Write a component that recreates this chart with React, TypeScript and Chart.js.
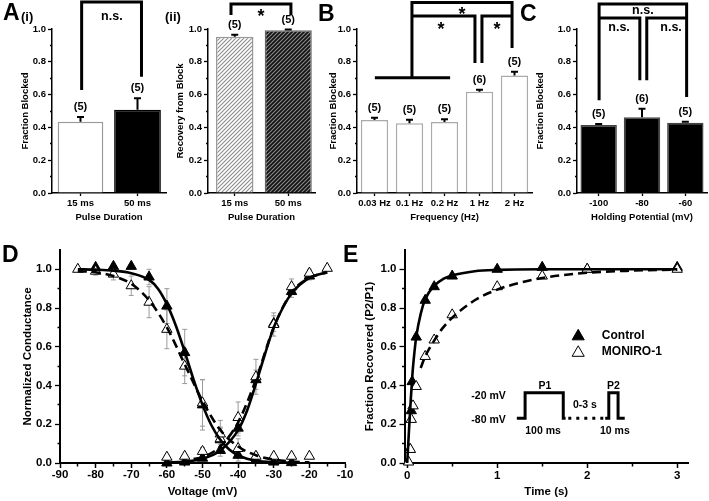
import React, { useEffect, useRef } from 'react';
import { Chart, registerables } from 'chart.js';

Chart.register(...registerables);

const FONT = "'Liberation Sans', Arial, Helvetica, sans-serif";
const bf = (size: number) => ({ family: FONT, size, weight: 'bold' as const, lineHeight: 1.2 });

// ================= DATA =================
// Panel A(i)
const aiCategories = ['15 ms', '50 ms'];
const aiValues = [0.434, 0.508];
const aiErrors = [0.03, 0.07];
const aiCounts = ['(5)', '(5)'];

// Panel A(ii)
const aiiCategories = ['15 ms', '50 ms'];
const aiiValues = [0.953, 0.993];
const aiiErrors = [0.012, 0.004];
const aiiCounts = ['(5)', '(5)'];

// Panel B
const bCategories = ['0.03 Hz', '0.1 Hz', '0.2 Hz', '1 Hz', '2 Hz'];
const bValues = [0.445, 0.425, 0.433, 0.617, 0.717];
const bErrors = [0.014, 0.022, 0.016, 0.013, 0.022];
const bCounts = ['(5)', '(5)', '(5)', '(6)', '(5)'];

// Panel C
const cCategories = ['-100', '-80', '-60'];
const cValues = [0.415, 0.462, 0.428];
const cErrors = [0.006, 0.052, 0.006];
const cCounts = ['(5)', '(6)', '(5)'];

const fractionTicks = [0, 0.1, 0.2, 0.3, 0.4, 0.5, 0.6, 0.7, 0.8, 0.9, 1.0];

// significance brackets (category index, value)
const aiBrackets = [[[0.02, 0.628], [0.02, 1.165], [1.07, 1.165], [1.07, 0.709]]];
const aiMarks = [{ text: 'n.s.', x: 0.55, y: 1.075, size: 12.5 }];
const aiiBrackets = [[[-0.07, 1.085], [-0.07, 1.152], [1.05, 1.152], [1.05, 1.085]]];
const aiiMarks = [{ text: '*', x: 0.49, y: 1.104, size: 18 }];
const bBrackets = [
  [[0.01, 0.702], [2.16, 0.702]],
  [[1.07, 0.702], [1.07, 1.161], [3.93, 1.161], [3.93, 0.884]],
  [[1.07, 1.079], [2.87, 1.079], [2.87, 0.793]],
  [[3.07, 0.793], [3.07, 1.079], [3.93, 1.079]],
];
const bMarks = [
  { text: '*', x: 2.5, y: 1.115, size: 18 },
  { text: '*', x: 1.9, y: 1.027, size: 18 },
  { text: '*', x: 3.5, y: 1.027, size: 18 },
];
const cBrackets = [
  [[0.01, 0.565], [0.01, 1.152], [2.03, 1.152], [2.03, 0.585]],
  [[0.01, 1.067], [0.95, 1.067], [0.95, 0.687]],
  [[1.11, 0.687], [1.11, 1.067], [2.03, 1.067]],
];
const cMarks = [
  { text: 'n.s.', x: 1.02, y: 1.11, size: 12.5 },
  { text: 'n.s.', x: 0.47, y: 1.008, size: 12.5 },
  { text: 'n.s.', x: 1.67, y: 1.008, size: 12.5 },
];

// Panel D: voltage dependence (mV)
const dInactCtlV = [-80, -75, -70, -65, -60, -55, -50, -45, -40, -35, -30, -25];
const dInactCtl = [1.01, 1.015, 1.015, 0.96, 0.81, 0.57, 0.3, 0.12, 0.04, 0.015, 0.005, 0.002];
const dInactCtlErr = [0.01, 0.01, 0.01, 0.04, 0.09, 0.12, 0.13, 0.06, 0.03, 0.01, 0.005, 0.003];
const dInactMonV = [-85, -80, -75, -70, -65, -60, -55, -50, -45, -40, -35, -30, -25, -20];
const dInactMon = [1.0, 0.99, 0.975, 0.915, 0.83, 0.69, 0.5, 0.31, 0.15, 0.075, 0.035, 0.035, 0.035, 0.035];
const dInactMonErr = [0.005, 0.02, 0.03, 0.05, 0.08, 0.1, 0.09, 0.12, 0.07, 0.05, 0.02, 0.01, 0.01, 0.01];
const dActCtlV = [-60, -55, -50, -45, -40, -35, -30, -25, -20];
const dActCtl = [0.0, 0.005, 0.025, 0.065, 0.18, 0.43, 0.72, 0.885, 0.965];
const dActCtlErr = [0.002, 0.005, 0.01, 0.03, 0.04, 0.05, 0.04, 0.03, 0.02];
const dActMonV = [-60, -55, -50, -45, -40, -35, -30, -25, -20, -15];
const dActMon = [0.03, 0.035, 0.06, 0.125, 0.235, 0.445, 0.715, 0.91, 0.98, 1.005];
const dActMonErr = [0.01, 0.01, 0.02, 0.06, 0.08, 0.09, 0.06, 0.04, 0.02, 0.01];
// fitted curves
const dFitInactCtlV = [-85, -80, -75, -70, -65, -62.5, -60, -57.5, -55, -52.5, -50, -47.5, -45, -42.5, -40, -37.5, -35, -30, -25];
const dFitInactCtl = [1.0, 0.998, 0.993, 0.98, 0.945, 0.9, 0.82, 0.71, 0.575, 0.43, 0.3, 0.195, 0.12, 0.07, 0.04, 0.022, 0.012, 0.004, 0.001];
const dFitInactMonV = [-85, -80, -75, -70, -65, -60, -55, -50, -45, -40, -35, -30, -25, -20];
const dFitInactMon = [0.99, 0.985, 0.965, 0.925, 0.84, 0.7, 0.51, 0.32, 0.17, 0.085, 0.04, 0.018, 0.008, 0.003];
const dFitActCtlV = [-60, -55, -50, -45, -40, -37.5, -35, -32.5, -30, -27.5, -25, -20, -15];
const dFitActCtl = [0.002, 0.007, 0.022, 0.065, 0.17, 0.27, 0.41, 0.56, 0.7, 0.8, 0.875, 0.955, 0.985];
const dFitActMonV = [-52.5, -50, -45, -40, -35, -30, -25, -20, -15];
const dFitActMon = [0.02, 0.03, 0.085, 0.21, 0.43, 0.7, 0.88, 0.955, 0.985];
const dXTicks = [-90, -85, -80, -75, -70, -65, -60, -55, -50, -45, -40, -35, -30, -25, -20, -15, -10];

// Panel E: recovery from inactivation (s)
const eCtlT = [0.03, 0.045, 0.055, 0.1, 0.2, 0.3, 0.5, 1, 1.5, 2, 3];
const eCtl = [0.07, 0.27, 0.42, 0.65, 0.84, 0.91, 0.965, 1.0, 1.01, 1.0, 1.01];
const eMonT = [0.015, 0.035, 0.045, 0.065, 0.1, 0.2, 0.3, 0.5, 1, 1.5, 2, 3];
const eMon = [0.005, 0.07, 0.225, 0.295, 0.395, 0.55, 0.635, 0.765, 0.91, 0.965, 1.0, 1.0];
const eFitCtlT = [0, 0.02, 0.04, 0.06, 0.08, 0.1, 0.15, 0.2, 0.3, 0.4, 0.5, 0.75, 1, 1.5, 2, 3];
const eFitCtl = [0.0, 0.17, 0.33, 0.47, 0.57, 0.65, 0.77, 0.845, 0.915, 0.95, 0.968, 0.99, 0.997, 1.0, 1.0, 1.0];
const eFitMonT = [0.15, 0.2, 0.3, 0.4, 0.5, 0.75, 1, 1.25, 1.5, 2, 2.5, 3];
const eFitMon = [0.49, 0.55, 0.632, 0.7, 0.75, 0.84, 0.895, 0.93, 0.955, 0.982, 0.993, 0.998];
const eXTicks = [0, 0.5, 1, 1.5, 2, 2.5, 3];
const eLegendLabels = ['Control', 'MONIRO-1'];
// protocol inset (time, fraction coordinates of the schematic)
const eInsetP1 = [[1.218, 0.231], [1.31, 0.231], [1.31, 0.362], [1.734, 0.362], [1.734, 0.231], [1.76, 0.231]];
const eInsetP2 = [[2.2, 0.231], [2.24, 0.231], [2.24, 0.362], [2.343, 0.362], [2.343, 0.231], [2.417, 0.231]];
const eInsetGap = [[1.79, 0.231], [2.19, 0.231]];
const eInsetText = [
  { text: '-20 mV', x: 1.095, y: 0.346, align: 'right' },
  { text: '-80 mV', x: 1.095, y: 0.219, align: 'right' },
  { text: 'P1', x: 1.531, y: 0.396, align: 'center' },
  { text: 'P2', x: 2.29, y: 0.396, align: 'center' },
  { text: '0-3 s', x: 1.974, y: 0.3, align: 'center' },
  { text: '100 ms', x: 1.509, y: 0.165, align: 'center' },
  { text: '10 ms', x: 2.307, y: 0.165, align: 'center' },
];

const panelLetters = [
  { text: 'A', x: 3, base: 21, size: 23 },
  { text: '(i)', x: 21, base: 21, size: 13 },
  { text: '(ii)', x: 165, base: 21, size: 13 },
  { text: 'B', x: 318, base: 22, size: 23 },
  { text: 'C', x: 520, base: 22, size: 23 },
  { text: 'D', x: 2, base: 263, size: 23 },
  { text: 'E', x: 343, base: 263, size: 23 },
];

// ================= LAYOUT =================
type Box = { left: number; top: number; width: number; height: number };
type Area = { l: number; t: number; r: number; b: number };

const isMajorFrac = (v: number) => Math.round(v * 10) % 2 === 0;

function layoutPadding(box: Box, area: Area) {
  return { left: 0, top: area.t - box.top, right: box.left + box.width - area.r, bottom: 0 };
}

function yAxis(box: Box, area: Area, o: any) {
  return {
    type: 'linear',
    min: o.min,
    max: o.max,
    afterBuildTicks: (s: any) => {
      s.ticks = o.ticks.map((v: number) => ({ value: v }));
    },
    afterFit: (s: any) => {
      s.width = area.l - box.left;
    },
    ticks: {
      autoSkip: false,
      color: '#000',
      font: bf(o.tickFont),
      padding: o.tickPad,
      callback: (v: any) => (o.major(v) ? o.fmt(v) : ''),
    },
    grid: {
      drawOnChartArea: false,
      tickLength: o.tickLen,
      tickColor: '#000',
      tickWidth: 1.3,
      tickBorderDash: (c: any) =>
        c.tick && !o.major(c.tick.value) ? [0, o.tickLen / 2, o.tickLen / 2, 100] : [],
    },
    border: { color: '#000', width: o.borderW },
    title: {
      display: true,
      text: o.title,
      color: '#000',
      font: bf(o.titleFont),
      padding: { top: o.titleX - box.left - (o.titleFont * 1.2) / 2, bottom: 0 },
    },
  };
}

function xTitle(box: Box, text: string, size: number, centerY: number) {
  return {
    display: true,
    text,
    color: '#000',
    font: bf(size),
    padding: { top: 0, bottom: box.top + box.height - centerY - (size * 1.2) / 2 },
  };
}

function hatch(bg: string, fg: string) {
  const c = document.createElement('canvas');
  c.width = 4;
  c.height = 4;
  const g = c.getContext('2d')!;
  g.fillStyle = bg;
  g.fillRect(0, 0, 4, 4);
  g.strokeStyle = fg;
  g.lineWidth = 1.1;
  g.beginPath();
  g.moveTo(-1, 5);
  g.lineTo(5, -1);
  g.moveTo(-1, 1);
  g.lineTo(1, -1);
  g.moveTo(3, 5);
  g.lineTo(5, 3);
  g.stroke();
  return g.createPattern(c, 'repeat');
}

function resolveFill(f: any) {
  if (typeof f === 'string') return f;
  return hatch(f.bg, f.fg);
}

function barConfig(s: any) {
  const { box, area } = s;
  const datasets = s.vals.map((v: number, i: number) => ({
    data: s.vals.map((vv: number, j: number) => (j === i ? vv : null)),
    backgroundColor: resolveFill(s.fills[i]),
    borderColor: s.borders[i],
    borderWidth: 1.5,
    borderSkipped: 'bottom',
    barPercentage: s.widths[i],
    categoryPercentage: 1,
    grouped: false,
  }));
  const annot = {
    id: 'annot',
    afterDatasetsDraw(chart: any) {
      const ctx = chart.ctx;
      const xs = chart.scales.x;
      const ys = chart.scales.y;
      ctx.save();
      s.vals.forEach((v: number, i: number) => {
        const x = xs.getPixelForValue(i);
        const y0 = ys.getPixelForValue(v);
        const y1 = ys.getPixelForValue(v + s.errs[i]);
        ctx.strokeStyle = '#000';
        ctx.lineWidth = 2;
        ctx.beginPath();
        ctx.moveTo(x, y0);
        ctx.lineTo(x, y1);
        ctx.moveTo(x - 3.5, y1);
        ctx.lineTo(x + 3.5, y1);
        ctx.stroke();
        ctx.fillStyle = '#000';
        ctx.font = `bold 11px ${FONT}`;
        ctx.textAlign = 'center';
        ctx.textBaseline = 'middle';
        ctx.fillText(s.counts[i], x, y1 - 10);
      });
      ctx.strokeStyle = '#000';
      ctx.lineWidth = 3;
      ctx.lineJoin = 'miter';
      ctx.lineCap = 'butt';
      s.brackets.forEach((poly: number[][]) => {
        ctx.beginPath();
        poly.forEach(([a, b], k) => {
          const px = xs.getPixelForValue(a);
          const py = ys.getPixelForValue(b);
          if (k) ctx.lineTo(px, py);
          else ctx.moveTo(px, py);
        });
        ctx.stroke();
      });
      s.marks.forEach((m: any) => {
        ctx.font = `bold ${m.size}px ${FONT}`;
        ctx.textAlign = 'center';
        ctx.textBaseline = 'alphabetic';
        ctx.fillStyle = '#000';
        const off = m.text === '*' ? 0.56 : 0.26;
        ctx.fillText(m.text, xs.getPixelForValue(m.x), ys.getPixelForValue(m.y) + m.size * off);
      });
      ctx.restore();
    },
  };
  return {
    type: 'bar',
    data: { labels: s.cats, datasets },
    plugins: [annot],
    options: {
      responsive: false,
      animation: false,
      devicePixelRatio: 1,
      events: [],
      layout: { padding: layoutPadding(box, area) },
      plugins: { legend: { display: false }, tooltip: { enabled: false } },
      scales: {
        x: {
          type: 'category',
          offset: true,
          afterFit: (sc: any) => {
            sc.height = box.top + box.height - area.b;
          },
          ticks: { color: '#000', font: bf(9.5), padding: 2, autoSkip: false, maxRotation: 0 },
          grid: { drawOnChartArea: false, offset: false, tickLength: 3, tickColor: '#000', tickWidth: 1.3 },
          border: { color: '#000', width: 1.5 },
          title: xTitle(box, s.xTitle, 9.5, 217),
        },
        y: yAxis(box, area, {
          min: 0,
          max: 1,
          ticks: fractionTicks,
          major: isMajorFrac,
          fmt: (v: number) => v.toFixed(1),
          tickFont: 9.5,
          tickPad: 2,
          tickLen: 4,
          borderW: 1.5,
          title: s.yTitle,
          titleFont: 9.5,
          titleX: s.yTitleX,
        }),
      },
    },
  };
}

const aiSpec = {
  box: { left: 0, top: 0, width: 172, height: 240 },
  area: { l: 52, t: 29, r: 166, b: 193 },
  cats: aiCategories, vals: aiValues, errs: aiErrors, counts: aiCounts,
  fills: ['#ffffff', '#000000'], borders: ['#999999', '#000000'], widths: [0.8, 0.82],
  brackets: aiBrackets, marks: aiMarks,
  yTitle: 'Fraction Blocked', yTitleX: 25, xTitle: 'Pulse Duration',
};
const aiiSpec = {
  box: { left: 170, top: 0, width: 150, height: 240 },
  area: { l: 208, t: 29, r: 315, b: 193 },
  cats: aiiCategories, vals: aiiValues, errs: aiiErrors, counts: aiiCounts,
  fills: [{ bg: '#ffffff', fg: '#8c8c8c' }, { bg: '#111111', fg: '#8c8c8c' }],
  borders: ['#999999', '#666666'], widths: [0.7, 0.88],
  brackets: aiiBrackets, marks: aiiMarks,
  yTitle: 'Recovery from Block', yTitleX: 180, xTitle: 'Pulse Duration',
};
const bSpec = {
  box: { left: 320, top: 0, width: 215, height: 240 },
  area: { l: 357, t: 29, r: 532, b: 193 },
  cats: bCategories, vals: bValues, errs: bErrors, counts: bCounts,
  fills: ['#fff', '#fff', '#fff', '#fff', '#fff'],
  borders: ['#aaa', '#aaa', '#aaa', '#aaa', '#aaa'], widths: [0.78, 0.78, 0.78, 0.78, 0.78],
  brackets: bBrackets, marks: bMarks,
  yTitle: 'Fraction Blocked', yTitleX: 333, xTitle: 'Frequency (Hz)',
};
const cSpec = {
  box: { left: 530, top: 0, width: 179, height: 240 },
  area: { l: 577, t: 29, r: 707, b: 193 },
  cats: cCategories, vals: cValues, errs: cErrors, counts: cCounts,
  fills: ['#000', '#000', '#000'], borders: ['#444', '#444', '#444'], widths: [0.84, 0.84, 0.84],
  brackets: cBrackets, marks: cMarks,
  yTitle: 'Fraction Blocked', yTitleX: 540, xTitle: 'Holding Potential (mV)',
};

const pts = (xs: number[], ys: number[]) => xs.map((x, i) => ({ x, y: ys[i] }));

function curveSet(xs: number[], ys: number[], dashed: boolean) {
  return {
    data: pts(xs, ys),
    showLine: true,
    pointRadius: 0,
    borderColor: '#000',
    borderWidth: 2.6,
    borderDash: dashed ? [9, 5] : [],
    cubicInterpolationMode: 'monotone',
    fill: false,
  };
}
function pointSet(xs: number[], ys: number[], filled: boolean, r: number) {
  return {
    data: pts(xs, ys),
    showLine: false,
    pointStyle: 'triangle',
    pointRadius: r,
    pointBackgroundColor: filled ? '#000' : '#fff',
    pointBorderColor: '#000',
    pointBorderWidth: 1,
    clip: false,
  };
}

function drawTri(ctx: any, x: number, y: number, r: number, filled: boolean) {
  ctx.beginPath();
  for (let k = 0; k < 3; k++) {
    const a = (k * 2 * Math.PI) / 3;
    const px = x + Math.sin(a) * r;
    const py = y - Math.cos(a) * r;
    if (k) ctx.lineTo(px, py);
    else ctx.moveTo(px, py);
  }
  ctx.closePath();
  ctx.fillStyle = filled ? '#000' : '#fff';
  ctx.fill();
  ctx.strokeStyle = '#000';
  ctx.lineWidth = 1;
  ctx.stroke();
}

function curveScales(box: Box, area: Area, o: any) {
  return {
    x: {
      type: 'linear',
      min: o.xmin,
      max: o.xmax,
      afterBuildTicks: (s: any) => {
        s.ticks = o.xticks.map((v: number) => ({ value: v }));
      },
      afterFit: (s: any) => {
        s.height = box.top + box.height - area.b;
      },
      ticks: {
        autoSkip: false,
        color: '#000',
        font: bf(11.5),
        padding: o.xTickPad,
        maxRotation: 0,
        callback: (v: any) => (o.xmajor(v) ? String(v) : ''),
      },
      grid: {
        drawOnChartArea: false,
        tickLength: 5,
        tickColor: '#000',
        tickWidth: 1.5,
        tickBorderDash: (c: any) => (c.tick && !o.xmajor(c.tick.value) ? [2.5, 100] : []),
      },
      border: { color: '#000', width: 2 },
      title: xTitle(box, o.xTitle, 11.5, o.xTitleY),
    },
    y: yAxis(box, area, {
      min: 0,
      max: 1.1,
      ticks: fractionTicks,
      major: isMajorFrac,
      fmt: (v: number) => v.toFixed(1),
      tickFont: 11.5,
      tickPad: 3,
      tickLen: 5,
      borderW: 2,
      title: o.yTitle,
      titleFont: 11.5,
      titleX: o.yTitleX,
    }),
  };
}

const dBox = { left: 0, top: 240, width: 370, height: 261 };
const dArea = { l: 60, t: 246, r: 345, b: 463 };
const eBox = { left: 355, top: 240, width: 354, height: 261 };
const eArea = { l: 404.5, t: 246, r: 688, b: 463 };

function dConfig() {
  const errPlugin = {
    id: 'errs',
    beforeDatasetsDraw(chart: any) {
      const ctx = chart.ctx;
      const xs = chart.scales.x;
      const ys = chart.scales.y;
      ctx.save();
      ctx.strokeStyle = '#9a9a9a';
      ctx.lineWidth = 1;
      const groups: [number[], number[], number[]][] = [
        [dInactCtlV, dInactCtl, dInactCtlErr],
        [dInactMonV, dInactMon, dInactMonErr],
        [dActCtlV, dActCtl, dActCtlErr],
        [dActMonV, dActMon, dActMonErr],
      ];
      groups.forEach(([vx, vy, ve]) => {
        vx.forEach((v, i) => {
          const x = xs.getPixelForValue(v);
          const a = ys.getPixelForValue(vy[i] + ve[i]);
          const b = ys.getPixelForValue(vy[i] - ve[i]);
          ctx.beginPath();
          ctx.moveTo(x, a);
          ctx.lineTo(x, b);
          ctx.moveTo(x - 2.5, a);
          ctx.lineTo(x + 2.5, a);
          ctx.moveTo(x - 2.5, b);
          ctx.lineTo(x + 2.5, b);
          ctx.stroke();
        });
      });
      ctx.restore();
    },
  };
  return {
    type: 'scatter',
    data: {
      datasets: [
        curveSet(dFitInactCtlV, dFitInactCtl, false),
        curveSet(dFitInactMonV, dFitInactMon, true),
        curveSet(dFitActCtlV, dFitActCtl, false),
        curveSet(dFitActMonV, dFitActMon, true),
        pointSet(dInactMonV, dInactMon, false, 6),
        pointSet(dActMonV, dActMon, false, 6),
        pointSet(dInactCtlV, dInactCtl, true, 6),
        pointSet(dActCtlV, dActCtl, true, 6),
      ],
    },
    plugins: [errPlugin],
    options: {
      responsive: false,
      animation: false,
      devicePixelRatio: 1,
      events: [],
      layout: { padding: layoutPadding(dBox, dArea) },
      plugins: { legend: { display: false }, tooltip: { enabled: false } },
      scales: curveScales(dBox, dArea, {
        xmin: -90,
        xmax: -10,
        xticks: dXTicks,
        xmajor: (v: number) => Math.round(v) % 10 === 0,
        xTickPad: 0,
        xTitle: 'Voltage (mV)',
        xTitleY: 492,
        yTitle: 'Normalized Conductance',
        yTitleX: 28,
      }),
    },
  };
}

function eConfig() {
  const deco = {
    id: 'deco',
    afterDraw(chart: any) {
      const ctx = chart.ctx;
      const xs = chart.scales.x;
      const ys = chart.scales.y;
      const X = (v: number) => xs.getPixelForValue(v);
      const Y = (v: number) => ys.getPixelForValue(v);
      ctx.save();
      // legend
      eLegendLabels.forEach((label, i) => {
        const cy = Y(0.659 - i * 0.085);
        drawTri(ctx, X(1.9), cy + 1, 7, i === 0);
        ctx.fillStyle = '#000';
        ctx.font = `bold 12px ${FONT}`;
        ctx.textAlign = 'left';
        ctx.textBaseline = 'middle';
        ctx.fillText(label, X(2.163), cy);
      });
      // protocol inset
      ctx.strokeStyle = '#000';
      ctx.lineWidth = 3;
      ctx.lineJoin = 'miter';
      [eInsetP1, eInsetP2].forEach((poly) => {
        ctx.beginPath();
        poly.forEach(([a, b], k) => (k ? ctx.lineTo(X(a), Y(b)) : ctx.moveTo(X(a), Y(b))));
        ctx.stroke();
      });
      ctx.setLineDash([3, 5]);
      ctx.beginPath();
      ctx.moveTo(X(eInsetGap[0][0]), Y(eInsetGap[0][1]));
      ctx.lineTo(X(eInsetGap[1][0]), Y(eInsetGap[1][1]));
      ctx.stroke();
      ctx.setLineDash([]);
      ctx.fillStyle = '#000';
      ctx.font = `bold 10.5px ${FONT}`;
      ctx.textBaseline = 'middle';
      eInsetText.forEach((t) => {
        ctx.textAlign = t.align;
        ctx.fillText(t.text, X(t.x), Y(t.y));
      });
      ctx.restore();
    },
  };
  return {
    type: 'scatter',
    data: {
      datasets: [
        curveSet(eFitCtlT, eFitCtl, false),
        curveSet(eFitMonT, eFitMon, true),
        pointSet(eMonT, eMon, false, 6),
        pointSet(eCtlT, eCtl, true, 6),
      ],
    },
    plugins: [deco],
    options: {
      responsive: false,
      animation: false,
      devicePixelRatio: 1,
      events: [],
      layout: { padding: layoutPadding(eBox, eArea) },
      plugins: { legend: { display: false }, tooltip: { enabled: false } },
      scales: curveScales(eBox, eArea, {
        xmin: -0.03,
        xmax: 3.12,
        xticks: eXTicks,
        xmajor: (v: number) => Number.isInteger(v),
        xTickPad: 1,
        xTitle: 'Time (s)',
        xTitleY: 492,
        yTitle: 'Fraction Recovered (P2/P1)',
        yTitleX: 370,
      }),
    },
  };
}

function ChartCanvas({ box, build }: { box: Box; build: () => any }) {
  const ref = useRef<HTMLCanvasElement>(null);
  useEffect(() => {
    const chart = new Chart(ref.current as HTMLCanvasElement, build());
    return () => chart.destroy();
  }, []);
  return (
    <canvas
      ref={ref}
      width={box.width}
      height={box.height}
      style={{ position: 'absolute', left: box.left, top: box.top, width: box.width, height: box.height }}
    />
  );
}

export default function App() {
  return (
    <div
      style={{
        position: 'absolute',
        left: 0,
        top: 0,
        width: 709,
        height: 501,
        background: '#fff',
        overflow: 'hidden',
      }}
    >
      <ChartCanvas box={aiSpec.box} build={() => barConfig(aiSpec)} />
      <ChartCanvas box={aiiSpec.box} build={() => barConfig(aiiSpec)} />
      <ChartCanvas box={bSpec.box} build={() => barConfig(bSpec)} />
      <ChartCanvas box={cSpec.box} build={() => barConfig(cSpec)} />
      <ChartCanvas box={dBox} build={dConfig} />
      <ChartCanvas box={eBox} build={eConfig} />
      {panelLetters.map((l) => (
        <span
          key={l.text}
          style={{
            position: 'absolute',
            left: l.x,
            top: l.base - 0.85 * l.size,
            fontFamily: FONT,
            fontWeight: 'bold',
            fontSize: l.size,
            lineHeight: 1,
            color: '#000',
            whiteSpace: 'nowrap',
          }}
        >
          {l.text}
        </span>
      ))}
    </div>
  );
}
